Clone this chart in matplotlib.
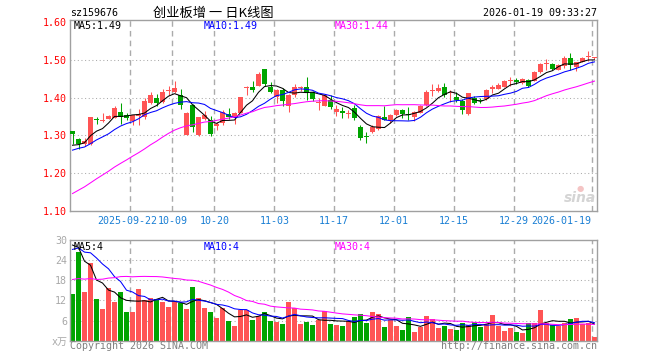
import numpy as np
import pandas as pd
import matplotlib
matplotlib.use("Agg")
from matplotlib import pyplot as plt
from matplotlib import transforms

plt.rcParams['font.family'] = ['DejaVu Sans Mono', 'Noto Sans CJK SC']

# daily K data, 2025-09-08 .. 2026-01-19 (88 trading days)
open_ = [1.311, 1.290, 1.276, 1.276, 1.341, 1.338, 1.3445, 1.346, 1.362, 1.353,
         1.338, 1.351, 1.349, 1.3856, 1.399, 1.388, 1.417, 1.4145, 1.408, 1.301,
         1.380, 1.301, 1.344, 1.340, 1.3236, 1.3315, 1.356, 1.349, 1.360, 1.425,
         1.427, 1.432, 1.4755, 1.427, 1.401, 1.421, 1.379, 1.408, 1.4245, 1.429,
         1.416, 1.385, 1.379, 1.3925, 1.362, 1.365, 1.357, 1.373, 1.323, 1.297,
         1.310, 1.318, 1.348, 1.340, 1.3535, 1.367, 1.355, 1.349, 1.360, 1.380,
         1.418, 1.4175, 1.428, 1.412, 1.402, 1.392, 1.3575, 1.400, 1.392, 1.395,
         1.424, 1.423, 1.428, 1.443, 1.447, 1.438, 1.447, 1.445, 1.467, 1.489,
         1.489, 1.474, 1.484, 1.506, 1.481, 1.495, 1.507, 1.505]
close = [1.305, 1.278, 1.285, 1.348, 1.340, 1.339, 1.3515, 1.3725, 1.348, 1.346,
         1.353, 1.357, 1.392, 1.4074, 1.3856, 1.416, 1.418, 1.425, 1.380, 1.360,
         1.323, 1.349, 1.355, 1.3026, 1.329, 1.362, 1.350, 1.360, 1.401, 1.426,
         1.421, 1.462, 1.436, 1.414, 1.4205, 1.390, 1.4074, 1.4275, 1.4255, 1.416,
         1.395, 1.386, 1.4074, 1.375, 1.370, 1.358, 1.358, 1.346, 1.294, 1.296,
         1.321, 1.351, 1.342, 1.3535, 1.368, 1.356, 1.353, 1.362, 1.378, 1.415,
         1.419, 1.425, 1.406, 1.413, 1.393, 1.368, 1.411, 1.387, 1.391, 1.421,
         1.425, 1.434, 1.444, 1.444, 1.440, 1.450, 1.432, 1.469, 1.490, 1.490,
         1.475, 1.486, 1.505, 1.487, 1.493, 1.505, 1.508, 1.506]
high = [1.312, 1.293, 1.292, 1.349, 1.350, 1.360, 1.353, 1.379, 1.386, 1.360,
        1.355, 1.371, 1.399, 1.416, 1.410, 1.423, 1.430, 1.444, 1.423, 1.362,
        1.384, 1.350, 1.364, 1.351, 1.336, 1.366, 1.372, 1.362, 1.402, 1.432,
        1.445, 1.467, 1.476, 1.442, 1.423, 1.425, 1.410, 1.436, 1.432, 1.455,
        1.418, 1.399, 1.410, 1.406, 1.3816, 1.375, 1.368, 1.380, 1.327, 1.310,
        1.327, 1.354, 1.377, 1.356, 1.371, 1.369, 1.374, 1.364, 1.380, 1.421,
        1.435, 1.437, 1.439, 1.419, 1.415, 1.395, 1.412, 1.403, 1.398, 1.423,
        1.433, 1.438, 1.446, 1.454, 1.452, 1.453, 1.450, 1.471, 1.492, 1.503,
        1.491, 1.488, 1.510, 1.518, 1.494, 1.507, 1.524, 1.508]
low = [1.277, 1.263, 1.273, 1.275, 1.329, 1.336, 1.343, 1.345, 1.329, 1.340,
       1.327, 1.327, 1.343, 1.384, 1.379, 1.387, 1.406, 1.413, 1.371, 1.300,
       1.310, 1.299, 1.340, 1.298, 1.315, 1.327, 1.344, 1.329, 1.358, 1.406,
       1.416, 1.430, 1.432, 1.413, 1.386, 1.379, 1.362, 1.401, 1.418, 1.393,
       1.390, 1.366, 1.377, 1.371, 1.351, 1.346, 1.346, 1.340, 1.288, 1.281,
       1.307, 1.314, 1.340, 1.333, 1.351, 1.347, 1.340, 1.339, 1.358, 1.378,
       1.404, 1.415, 1.402, 1.389, 1.389, 1.356, 1.355, 1.384, 1.385, 1.394,
       1.413, 1.422, 1.427, 1.432, 1.437, 1.437, 1.428, 1.444, 1.466, 1.472,
       1.473, 1.472, 1.478, 1.474, 1.471, 1.494, 1.498, 1.503]
vol = [14.0, 26.3, 14.6, 23.0, 12.5, 9.5, 15.8, 11.6, 14.6, 8.6,
       8.6, 15.5, 12.2, 12.8, 12.5, 11.6, 10.1, 11.6, 11.3, 9.5,
       16.1, 12.8, 9.8, 8.6, 6.8, 9.8, 5.9, 4.4, 9.2, 9.2,
       6.2, 7.4, 8.6, 5.9, 5.6, 5.0, 11.6, 9.8, 5.0, 5.6,
       4.7, 6.2, 8.9, 5.0, 4.7, 4.4, 5.9, 7.1, 8.0, 5.3,
       8.6, 8.0, 4.1, 6.2, 4.4, 3.2, 7.1, 2.6, 4.1, 7.4,
       6.5, 3.8, 4.4, 3.5, 3.2, 5.3, 4.7, 5.6, 4.1, 5.0,
       7.7, 4.4, 2.9, 3.8, 2.6, 2.3, 5.3, 5.3, 9.2, 5.3,
       4.7, 4.4, 5.3, 6.5, 6.8, 5.0, 5.3, 1.1]

# earlier days (not drawn), only needed so the moving averages start right
pre_close = [1.01, 1.02, 1.03, 1.02, 1.04, 1.05, 1.04, 1.06, 1.07, 1.06,
             1.08, 1.09, 1.08, 1.10, 1.09, 1.12, 1.17, 1.19, 1.21, 1.245,
             1.23, 1.25, 1.26, 1.24, 1.26, 1.27, 1.26, 1.255, 1.28]
pre_vol = [18, 20, 17, 21, 7, 6, 8, 5, 7, 12, 13, 11, 14, 13, 15, 17, 18, 16,
           19, 18, 22, 27, 25, 28, 27.5, 30, 35, 29, 34.5]

tick_idx = [10, 17, 24, 34, 44, 54, 64, 74, 87]
tick_lab = ['2025-09-22', '10-09', '10-20', '11-03', '11-17', '12-01', '12-15', '12-29', '2026-01-19']
price_ticks = [1.10, 1.20, 1.30, 1.40, 1.50, 1.60]
vol_ticks = [6, 12, 18, 24, 30]
ma_lab = ['MA5:1.49', 'MA10:1.49', 'MA30:1.44']
vma_lab = ['MA5:4', 'MA10:4', 'MA30:4']

RED = '#ff5454'
GREEN = '#00a400'
GRID = '#ababab'
ma_cols = ['black', '#0000ff', '#ff00ff']
FS = 7.2

n = len(close)
x = np.arange(n)
o = np.array(open_); c = np.array(close); h = np.array(high); l = np.array(low)
up = c >= o
cols = [RED if u else GREEN for u in up]

allc = pd.Series(pre_close + close)
allv = pd.Series(pre_vol + vol)
ma = [allc.rolling(k).mean().values[-n:] for k in (5, 10, 30)]
vma = [allv.rolling(k).mean().values[-n:] for k in (5, 10, 30)]

W, H = 660, 360
fig = plt.figure(figsize=(6.6, 3.6), dpi=100)
ax1 = fig.add_axes([70/W, 1-211/H, 527/W, 191/H])
ax2 = fig.add_axes([70/W, 1-340.7/H, 527/W, 100.7/H])

xl = (-0.42, n - 0.58)
for ax in (ax1, ax2):
    ax.set_xlim(*xl)
    for s in ax.spines.values():
        s.set_color('#a0a0a0')
        s.set_linewidth(1)
    ax.tick_params(length=0)
    ax.set_xticks([])
    for t in tick_idx:
        ax.axvline(t - 0.37, color=GRID, lw=1, dashes=(4, 3), zorder=0)

# price panel
ax1.set_ylim(1.10, 1.6053)
for p in price_ticks[1:-1]:
    ax1.axhline(p, color=GRID, lw=0.75, dashes=(1, 2.5), zorder=0)
ax1.vlines(x, l, h, colors=cols, lw=0.75, zorder=2)
body = np.maximum(np.abs(c - o), 0.0028)
ax1.bar(x, body, bottom=np.minimum(o, c), width=0.76, color=cols, zorder=3, linewidth=0)
for m, col in zip(ma, ma_cols):
    ax1.plot(x, m, color=col, lw=0.75, zorder=4)
ax1.set_yticks(price_ticks)
ax1.set_yticklabels(['%.2f' % p for p in price_ticks], color='#ff0000', fontsize=FS)
ax1.tick_params(axis='y', pad=2)

# date labels: first two butt against each other, last one kept inside
trans = transforms.blended_transform_factory(ax1.transData, ax1.transAxes)
for k, (t, s) in enumerate(zip(tick_idx, tick_lab)):
    pos, ha = t - 0.37, 'center'
    if k == 0:
        pos, ha = tick_idx[1] - 0.37 - 2.45, 'right'
    elif k == 1:
        pos, ha = tick_idx[1] - 0.37 - 2.4, 'left'
    elif k == len(tick_idx) - 1:
        pos, ha = t - 0.5, 'right'
    ax1.text(pos, -0.052, s, transform=trans, ha=ha, va='center', color='#1a7fd4', fontsize=FS)

# volume panel
ax2.set_ylim(0, 30)
for v in vol_ticks[:-1]:
    ax2.axhline(v, color=GRID, lw=0.75, dashes=(1, 2.5), zorder=0)
ax2.bar(x, vol, width=0.84, color=cols, zorder=2, linewidth=0)
for m, col in zip(vma, ma_cols):
    ax2.plot(x, m, color=col, lw=0.75, zorder=4)
ax2.set_yticks([0] + vol_ticks)
ax2.set_yticklabels(['x万'] + [str(v) for v in vol_ticks], color='#a8a8a8', fontsize=FS)
ax2.tick_params(axis='y', pad=2)

def ftext(px, py, s, **kw):
    fig.text(px / W, 1 - py / H, s, **kw)

ftext(70, 13, 'sz159676', fontsize=FS, va='center')
ftext(213, 13, '创业板增 一 日K线图', fontsize=9.5, va='center', ha='center',
      family=['Noto Sans CJK SC', 'DejaVu Sans'])
ftext(597, 13, '2026-01-19 09:33:27', fontsize=FS, va='center', ha='right')
for px, s, col in zip((74, 204, 335), ma_lab, ma_cols):
    ftext(px, 26, s, fontsize=FS, va='center', color=col)
for px, s, col in zip((74, 204, 335), vma_lab, ma_cols):
    ftext(px, 247, s, fontsize=FS, va='center', color=col)
ftext(70, 346, 'Copyright 2026 SINA.COM', fontsize=FS, va='center', color='#808080')
ftext(597, 346, 'http://finance.sina.com.cn', fontsize=FS, va='center', ha='right', color='#808080')

# sina watermark
ftext(580, 198, 'sina', fontsize=10, va='center', ha='center', color='#d4d4d4',
      style='italic', weight='bold', family='DejaVu Sans')
ftext(580, 188, '\u25cf', fontsize=6, va='center', ha='center', color='#f4c4c4', family='DejaVu Sans')

fig.savefig('out.png', dpi=100)
